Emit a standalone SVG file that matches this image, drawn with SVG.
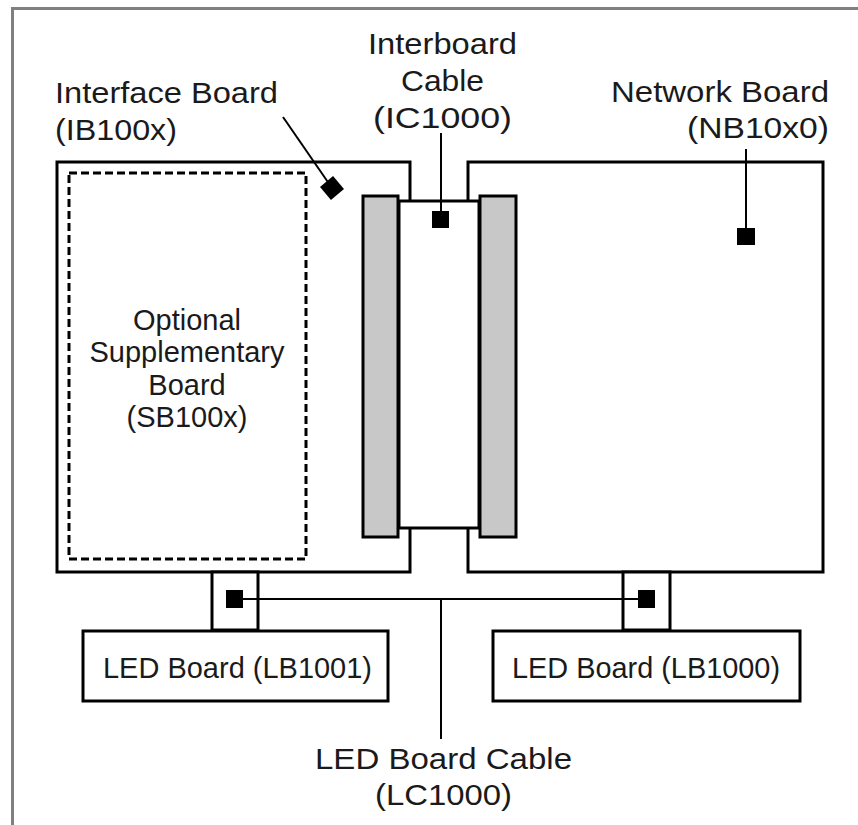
<svg xmlns="http://www.w3.org/2000/svg" width="858" height="825" viewBox="0 0 858 825">
<style>
.frame{fill:none;stroke:#808080;stroke-width:3}
.board{fill:#fff;stroke:#000;stroke-width:3}
.conn{fill:#c8c8c8;stroke:#000;stroke-width:3}
.dash{fill:none;stroke:#000;stroke-width:3;stroke-dasharray:8 4}
.mark{fill:#000}
.wire{fill:none;stroke:#000;stroke-width:2}
text{font-family:"Liberation Sans",Arial,Helvetica,sans-serif;font-size:29px;fill:#1a1a1a}
.c{text-anchor:middle}
.e{text-anchor:end}
</style>
<rect width="858" height="825" fill="#fff"/>
<path class="frame" d="M12.5,830 V8.5 H862"/>

<g id="interface-board">
  <rect class="board" x="57" y="162" width="353" height="410"/>
  <text x="55" y="103" textLength="223" lengthAdjust="spacingAndGlyphs">Interface Board</text>
  <text x="55" y="140" textLength="122" lengthAdjust="spacingAndGlyphs">(IB100x)</text>
  <rect class="mark" x="323.5" y="179.5" width="17" height="17" transform="rotate(50 332 188)"/>
</g>

<g id="network-board">
  <rect class="board" x="468" y="162" width="355" height="410"/>
  <text class="e" x="829" y="102" textLength="218" lengthAdjust="spacingAndGlyphs">Network Board</text>
  <text class="e" x="829" y="138" textLength="142" lengthAdjust="spacingAndGlyphs">(NB10x0)</text>
  <rect class="mark" x="737" y="228" width="18" height="17"/>
</g>

<g id="supplementary-board">
  <rect class="dash" x="69" y="173" width="237" height="386"/>
  <text class="c" x="187" y="330">Optional</text>
  <text class="c" x="187" y="362">Supplementary</text>
  <text class="c" x="187" y="395">Board</text>
  <text class="c" x="187" y="427">(SB100x)</text>
</g>

<g id="left-connector">
  <rect class="conn" x="363" y="196" width="35" height="341"/>
</g>
<g id="right-connector">
  <rect class="conn" x="480" y="196" width="36" height="341"/>
</g>

<g id="interboard-cable">
  <rect class="board" x="399" y="201" width="80" height="327"/>
  <text class="c" x="442.5" y="54" textLength="149" lengthAdjust="spacingAndGlyphs">Interboard</text>
  <text class="c" x="442.5" y="91" textLength="83" lengthAdjust="spacingAndGlyphs">Cable</text>
  <text class="c" x="442.5" y="128" textLength="139" lengthAdjust="spacingAndGlyphs">(IC1000)</text>
  <rect class="mark" x="432" y="211" width="17" height="17"/>
</g>

<g id="led-connector-left">
  <rect class="board" x="212" y="572" width="46" height="58"/>
  <rect class="mark" x="226" y="590" width="17" height="18"/>
</g>
<g id="led-connector-right">
  <rect class="board" x="623" y="572" width="47" height="58"/>
  <rect class="mark" x="638" y="590" width="17" height="18"/>
</g>

<g id="led-board-lb1001">
  <rect class="board" x="83" y="631" width="305" height="70"/>
  <text class="c" x="237.5" y="678" textLength="269" lengthAdjust="spacingAndGlyphs">LED Board (LB1001)</text>
</g>
<g id="led-board-lb1000">
  <rect class="board" x="493" y="631" width="307" height="70"/>
  <text class="c" x="646" y="678" textLength="268" lengthAdjust="spacingAndGlyphs">LED Board (LB1000)</text>
</g>

<g id="led-board-cable-label">
  <text class="c" x="443.5" y="769" textLength="257" lengthAdjust="spacingAndGlyphs">LED Board Cable</text>
  <text class="c" x="443.5" y="805" textLength="137" lengthAdjust="spacingAndGlyphs">(LC1000)</text>
</g>

<g id="connectors">
  <line class="wire" x1="283" y1="117" x2="332" y2="188"/>
  <line class="wire" x1="441" y1="133" x2="441" y2="212"/>
  <line class="wire" x1="746" y1="149" x2="746" y2="229"/>
  <line class="wire" x1="234" y1="599" x2="647" y2="599"/>
  <line class="wire" x1="441" y1="599" x2="441" y2="739"/>
</g>
</svg>
